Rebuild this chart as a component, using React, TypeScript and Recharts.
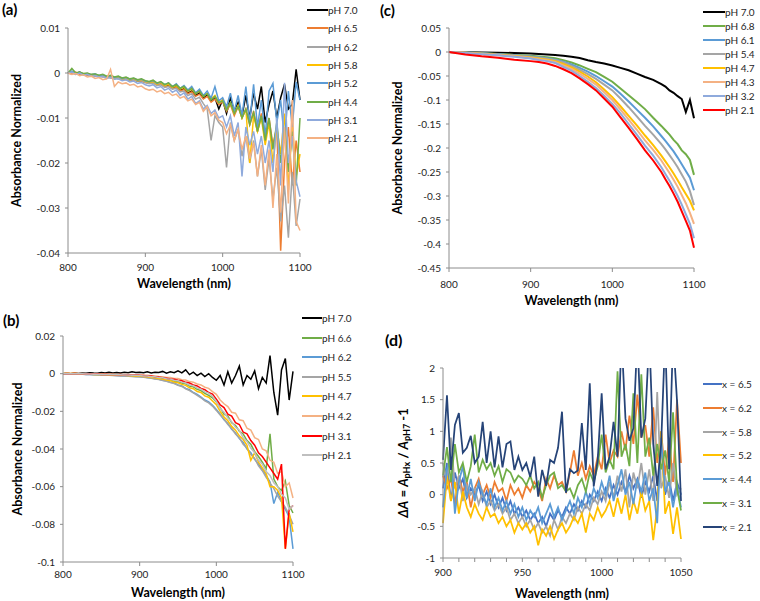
import React from "react";
import { LineChart, Line, XAxis, YAxis } from "recharts";

const FONT = "Lato, 'Open Sans', 'Liberation Sans', sans-serif";
const AXIS = "#8c8c8c";
const INK = "#1e1e1e";

// wavelength grids (nm)
const wl5 = [800, 805, 810, 815, 820, 825, 830, 835, 840, 845, 850, 855, 860, 865, 870, 875, 880, 885, 890, 895, 900, 905, 910, 915, 920, 925, 930, 935, 940, 945, 950, 955, 960, 965, 970, 975, 980, 985, 990, 995, 1000, 1005, 1010, 1015, 1020, 1025, 1030, 1035, 1040, 1045, 1050, 1055, 1060, 1065, 1070, 1075, 1080, 1085, 1090, 1095, 1100];
const wlC = [800, 820, 840, 860, 880, 900, 910, 920, 930, 940, 950, 960, 970, 980, 990, 1000, 1010, 1020, 1030, 1040, 1050, 1060, 1065, 1070, 1075, 1080, 1085, 1090, 1095, 1100];
const wlD = [900, 902.5, 905, 907.5, 910, 912.5, 915, 917.5, 920, 922.5, 925, 927.5, 930, 932.5, 935, 937.5, 940, 942.5, 945, 947.5, 950, 952.5, 955, 957.5, 960, 962.5, 965, 967.5, 970, 972.5, 975, 977.5, 980, 982.5, 985, 987.5, 990, 992.5, 995, 997.5, 1000, 1002.5, 1005, 1007.5, 1010, 1012.5, 1015, 1017.5, 1020, 1022.5, 1025, 1027.5, 1030, 1032.5, 1035, 1037.5, 1040, 1042.5, 1045, 1047.5, 1050];

// (a)
const namesA = ["pH 7.0", "pH 6.5", "pH 6.2", "pH 5.8", "pH 5.2", "pH 4.4", "pH 3.1", "pH 2.1"];
const colorsA = ["#000000", "#ED7D31", "#A5A5A5", "#FFC000", "#5B9BD5", "#70AD47", "#8FAADC", "#F4B183"];
const a70 = [0, .0003, -.0002, .0002, -.0004, -.0003, -.0006, -.0004, -.0008, -.0006, -.0010, -.0009, -.0012, -.0011, -.0013, -.0012, -.0016, -.0015, -.0018, -.0017, -.0020,
  -.0022, -.0020, -.0026, -.0024, -.0030, -.0028, -.0034, -.0030, -.0038, -.0035, -.0045, -.0040, -.0050, -.0044, -.0056, -.0048, -.0062, -.0055, -.0080, -.0060,
  -.0090, -.0055, -.0085, -.0065, -.0095, -.0050, -.0100, -.0045, -.0080, -.0030, -.0110, -.0070, -.0040, -.0100, -.0055, -.0025, -.0080, -.0070, .0008, -.0060];
const a65 = [0, -.0002, .0002, -.0003, -.0002, -.0005, -.0004, -.0007, -.0006, -.0009, -.0008, -.0011, -.0010, -.0013, -.0012, -.0015, -.0014, -.0017, -.0016, -.0019, -.0021,
  -.0023, -.0021, -.0027, -.0025, -.0031, -.0029, -.0035, -.0032, -.0040, -.0037, -.0046, -.0042, -.0052, -.0047, -.0058, -.0052, -.0065, -.0058, -.0070, -.0064,
  -.0085, -.0070, -.0095, -.0075, -.0100, -.0080, -.0115, -.0085, -.0130, -.0090, -.0140, -.0100, -.0160, -.0120, -.0395, -.0200, -.0120, -.0250, -.0150, -.0220];
const a62 = [0, .0002, -.0003, .0000, -.0004, -.0003, -.0006, -.0005, -.0008, -.0007, -.0010, -.0009, -.0012, -.0011, -.0014, -.0013, -.0016, -.0015, -.0018, -.0017, -.0021,
  -.0024, -.0022, -.0028, -.0026, -.0032, -.0030, -.0036, -.0034, -.0042, -.0040, -.0050, -.0046, -.0058, -.0054, -.0068, -.0080, -.0150, -.0095, -.0110, -.0120,
  -.0210, -.0110, -.0150, -.0125, -.0185, -.0140, -.0200, -.0150, -.0230, -.0170, -.0260, -.0190, -.0280, -.0210, -.0330, -.0250, -.0366, -.0220, -.0340, -.0280];
const a58 = [0, .0003, -.0002, .0001, -.0003, -.0002, -.0005, -.0004, -.0007, -.0005, -.0009, -.0008, -.0011, -.0009, -.0013, -.0011, -.0015, -.0013, -.0017, -.0015, -.0019,
  -.0021, -.0019, -.0025, -.0022, -.0028, -.0025, -.0032, -.0028, -.0036, -.0032, -.0040, -.0036, -.0046, -.0040, -.0052, -.0045, -.0058, -.0050, -.0066, -.0060,
  -.0080, -.0066, -.0090, -.0072, -.0100, -.0080, -.0200, -.0095, -.0130, -.0100, -.0160, -.0110, -.0200, -.0120, -.0180, -.0090, -.0260, -.0110, -.0230, -.0180];
const a52 = [0, .0004, -.0001, .0002, -.0002, -.0001, -.0004, -.0002, -.0006, -.0004, -.0008, -.0006, -.0010, -.0008, -.0012, -.0010, -.0014, -.0012, -.0016, -.0014, -.0018,
  -.0020, -.0017, -.0023, -.0020, -.0026, -.0022, -.0030, -.0024, -.0034, -.0028, -.0038, -.0030, -.0044, -.0036, -.0050, -.0040, -.0056, -.0030, -.0062, -.0055,
  -.0075, -.0045, -.0085, -.0050, -.0095, -.0030, -.0110, -.0025, -.0120, -.0060, -.0140, -.0040, -.0023, -.0110, -.0060, -.0150, -.0040, -.0120, -.0020, -.0060];
const a44 = [0, .0010, .0000, .0002, -.0001, .0000, -.0003, -.0002, -.0005, -.0003, -.0007, -.0005, -.0009, -.0007, -.0011, -.0009, -.0013, -.0011, -.0015, -.0013, -.0017,
  -.0019, -.0016, -.0022, -.0019, -.0026, -.0022, -.0030, -.0026, -.0034, -.0030, -.0040, -.0034, -.0046, -.0040, -.0052, -.0046, -.0060, -.0052, -.0066, -.0062,
  -.0082, -.0066, -.0090, -.0074, -.0100, -.0080, -.0115, -.0088, -.0130, -.0095, -.0150, -.0100, -.0170, -.0110, -.0200, -.0120, -.0220, -.0130, -.0250, -.0100];
const a31 = [0, .0002, -.0003, .0000, -.0005, -.0003, -.0007, -.0006, -.0009, -.0008, -.0012, -.0010, -.0014, -.0013, -.0017, -.0015, -.0020, -.0018, -.0023, -.0021, -.0026,
  -.0029, -.0026, -.0033, -.0030, -.0038, -.0034, -.0043, -.0038, -.0050, -.0044, -.0058, -.0052, -.0068, -.0062, -.0080, -.0072, -.0090, -.0082, -.0100, -.0095,
  -.0120, -.0095, -.0140, -.0110, -.0230, -.0120, -.0160, -.0130, -.0180, -.0140, -.0200, -.0150, -.0220, -.0100, -.0250, -.0022, -.0200, -.0140, -.0240, -.0275];
const a21 = [0, -.0003, -.0001, -.0006, -.0004, -.0009, -.0007, -.0012, -.0010, -.0015, -.0013, .0008, -.0030, -.0020, -.0024, -.0022, -.0027, -.0025, -.0031, -.0029, -.0035,
  -.0038, -.0036, -.0042, -.0039, -.0046, -.0043, -.0050, -.0047, -.0056, -.0052, -.0062, -.0058, -.0070, -.0065, -.0085, -.0075, -.0095, -.0088, -.0105, -.0110,
  -.0135, -.0115, -.0150, -.0125, -.0170, -.0140, -.0190, -.0155, -.0230, -.0160, -.0250, -.0170, -.0300, -.0180, -.0310, -.0120, -.0290, -.0060, -.0330, -.0350];

// (b)
const namesB = ["pH 7.0", "pH 6.6", "pH 6.2", "pH 5.5", "pH 4.7", "pH 4.2", "pH 3.1", "pH 2.1"];
const colorsB = ["#000000", "#70AD47", "#5B9BD5", "#A5A5A5", "#FFC000", "#F4B183", "#FF0000", "#BFBFBF"];
const b70 = [0, .0002, .0000, .0003, .0001, .0004, .0002, .0005, .0003, .0002, .0006, .0003, .0008, .0004, .0006, .0003, .0007, .0005, .0010, .0006, .0008,
  .0005, .0010, .0004, .0008, .0006, .0012, .0003, .0010, .0005, .0015, .0004, .0020, -.0005, .0008, -.0010, .0003, -.0015, .0000, -.0020, -.0035,
  -.0010, -.0060, .0010, -.0050, -.0010, .0040, -.0060, -.0010, -.0030, .0015, -.0080, -.0020, -.0050, .0096, -.0100, -.0220, .0020, .0080, -.0140, .0012];
const b66 = [0, .0002, 0, .0001, -.0001, .0000, -.0002, -.0001, -.0003, -.0002, -.0004, -.0003, -.0005, -.0004, -.0006, -.0006, -.0008, -.0008, -.0010, -.0010, -.0012,
  -.0014, -.0015, -.0018, -.0020, -.0023, -.0026, -.0031, -.0034, -.0040, -.0042, -.0050, -.0054, -.0066, -.0070, -.0083, -.0090, -.0105, -.0115, -.0128, -.0150,
  -.0180, -.0215, -.0225, -.0260, -.0275, -.0305, -.0320, -.0355, -.0375, -.0415, -.0440, -.0470, -.0505, -.0320, -.0560, -.0600, -.0620, -.0570, -.0700, -.0740];
const b62 = [0, .0001, -.0001, .0000, -.0002, -.0002, -.0004, -.0004, -.0006, -.0006, -.0008, -.0008, -.0009, -.0009, -.0010, -.0011, -.0012, -.0013, -.0014, -.0015, -.0016,
  -.0018, -.0021, -.0023, -.0027, -.0030, -.0035, -.0039, -.0046, -.0050, -.0060, -.0065, -.0078, -.0085, -.0100, -.0110, -.0125, -.0140, -.0150, -.0168, -.0190,
  -.0215, -.0245, -.0265, -.0295, -.0315, -.0345, -.0365, -.0400, -.0420, -.0455, -.0480, -.0510, -.0540, -.0575, -.0690, -.0630, -.0680, -.0720, -.0760, -.0930];
const b55 = [0, .0000, -.0001, -.0001, -.0002, -.0003, -.0004, -.0005, -.0006, -.0007, -.0008, -.0008, -.0009, -.0010, -.0011, -.0012, -.0013, -.0014, -.0015, -.0016, -.0017,
  -.0019, -.0022, -.0024, -.0028, -.0031, -.0036, -.0040, -.0047, -.0052, -.0062, -.0068, -.0080, -.0090, -.0102, -.0115, -.0128, -.0145, -.0155, -.0172, -.0195,
  -.0220, -.0240, -.0270, -.0290, -.0320, -.0340, -.0375, -.0395, -.0430, -.0450, -.0490, -.0515, -.0550, -.0580, -.0610, -.0650, -.0680, -.0710, -.0750, -.0800];
const b47 = [0, .0003, .0001, .0002, .0000, .0000, -.0002, -.0002, -.0004, -.0004, -.0005, -.0005, -.0006, -.0006, -.0007, -.0008, -.0009, -.0010, -.0011, -.0012, -.0013,
  -.0015, -.0017, -.0020, -.0022, -.0026, -.0029, -.0034, -.0037, -.0044, -.0048, -.0057, -.0062, -.0075, -.0080, -.0095, -.0100, -.0118, -.0125, -.0145, -.0165,
  -.0200, -.0230, -.0250, -.0280, -.0300, -.0330, -.0350, -.0380, -.0460, -.0420, -.0470, -.0500, -.0530, -.0600, -.0600, -.0620, -.0660, -.0930, -.0740, -.0840];
const b42 = [0, .0002, .0001, .0002, .0001, .0001, .0000, .0000, -.0001, -.0001, -.0002, -.0002, -.0003, -.0003, -.0004, -.0004, -.0005, -.0005, -.0006, -.0006, -.0007,
  -.0008, -.0009, -.0011, -.0012, -.0015, -.0016, -.0020, -.0020, -.0025, -.0026, -.0032, -.0034, -.0042, -.0045, -.0055, -.0060, -.0072, -.0078, -.0095, -.0110,
  -.0140, -.0160, -.0175, -.0205, -.0210, -.0245, -.0250, -.0290, -.0300, -.0340, -.0350, -.0400, -.0410, -.0460, -.0470, -.0530, -.0520, -.0600, -.0580, -.0660];
const b31 = [0, .0001, .0000, .0001, -.0001, .0000, -.0002, -.0001, -.0003, -.0002, -.0004, -.0003, -.0005, -.0004, -.0006, -.0005, -.0007, -.0006, -.0008, -.0007, -.0009,
  -.0010, -.0012, -.0013, -.0016, -.0018, -.0021, -.0024, -.0028, -.0030, -.0035, -.0038, -.0046, -.0050, -.0060, -.0065, -.0078, -.0085, -.0100, -.0108, -.0135,
  -.0165, -.0180, -.0215, -.0225, -.0260, -.0270, -.0310, -.0320, -.0355, -.0380, -.0420, -.0440, -.0470, -.0500, -.0530, -.0560, -.0480, -.0930, -.0720, -.0700];
const b21 = [0, .0001, .0000, .0000, -.0001, -.0001, -.0002, -.0002, -.0003, -.0003, -.0004, -.0004, -.0005, -.0005, -.0006, -.0006, -.0007, -.0007, -.0008, -.0009, -.0010,
  -.0012, -.0013, -.0016, -.0017, -.0021, -.0022, -.0027, -.0029, -.0035, -.0038, -.0045, -.0050, -.0060, -.0064, -.0076, -.0082, -.0097, -.0103, -.0120, -.0148,
  -.0185, -.0205, -.0235, -.0255, -.0285, -.0300, -.0340, -.0360, -.0395, -.0420, -.0460, -.0480, -.0520, -.0540, -.0580, -.0600, -.0640, -.0660, -.0720, -.0700];

// (c)
const namesC = ["pH 7.0", "pH 6.8", "pH 6.1", "pH 5.4", "pH 4.7", "pH 4.3", "pH 3.2", "pH 2.1"];
const colorsC = ["#000000", "#70AD47", "#5B9BD5", "#A5A5A5", "#FFC000", "#F4B183", "#8FAADC", "#FF0000"];
const c70 = [0, -.0005, -.001, -.0015, -.002, -.003, -.004, -.005, -.0065, -.008, -.010, -.0125, -.017, -.021, -.024, -.028, -.033, -.038, -.045, -.052, -.058, -.067, -.072, -.080, -.085, -.092, -.098, -.125, -.100, -.138];
const c68 = [0, -.001, -.002, -.004, -.006, -.008, -.0095, -.011, -.013, -.017, -.022, -.028, -.035, -.042, -.052, -.062, -.076, -.090, -.104, -.119, -.137, -.154, -.163, -.172, -.183, -.192, -.205, -.213, -.225, -.256];
const c61 = [0, -.0012, -.0025, -.0045, -.007, -.0095, -.011, -.013, -.016, -.020, -.026, -.033, -.041, -.050, -.061, -.072, -.087, -.103, -.120, -.137, -.155, -.175, -.185, -.196, -.207, -.220, -.234, -.248, -.262, -.288];
const c54 = [0, -.0014, -.003, -.005, -.0075, -.010, -.012, -.014, -.017, -.022, -.029, -.037, -.046, -.056, -.068, -.080, -.097, -.115, -.134, -.154, -.172, -.192, -.203, -.215, -.227, -.240, -.255, -.270, -.290, -.319];
const c47 = [0, -.0016, -.0035, -.006, -.0085, -.0115, -.0135, -.016, -.019, -.025, -.032, -.041, -.051, -.063, -.078, -.094, -.113, -.133, -.153, -.174, -.194, -.216, -.228, -.240, -.253, -.267, -.282, -.296, -.310, -.330];
const c43 = [0, -.0018, -.004, -.0065, -.009, -.0125, -.015, -.0175, -.021, -.028, -.035, -.045, -.056, -.068, -.084, -.100, -.120, -.141, -.162, -.184, -.204, -.226, -.239, -.252, -.266, -.281, -.298, -.315, -.335, -.358];
const c32 = [0, -.002, -.0045, -.007, -.010, -.0135, -.0165, -.019, -.023, -.031, -.039, -.050, -.062, -.075, -.091, -.108, -.128, -.150, -.172, -.195, -.216, -.240, -.254, -.268, -.284, -.300, -.318, -.338, -.358, -.388];
const c21 = [0, -.005, -.009, -.012, -.016, -.019, -.021, -.024, -.029, -.036, -.044, -.055, -.067, -.080, -.097, -.114, -.136, -.158, -.181, -.205, -.226, -.250, -.265, -.279, -.295, -.312, -.332, -.352, -.372, -.408];

// (d)
const namesD = ["x = 6.5", "x = 6.2", "x = 5.8", "x = 5.2", "x = 4.4", "x = 3.1", "x = 2.1"];
const colorsD = ["#4472C4", "#ED7D31", "#A5A5A5", "#FFC000", "#5B9BD5", "#70AD47", "#264478"];
const d65 = [0.1, 0.5, -0.1, 0.35, 0.1, 0.25, -0.05, 0.1, 0.0, 0.15, -0.1, 0.05, -0.15, 0.0, -0.2, -0.05, -0.25, -0.1, -0.3, -0.2,
  -0.35, -0.25, -0.4, -0.3, -0.45, -0.35, -0.5, -0.3, -0.4, -0.25, -0.35, -0.2, -0.3, -0.15, -0.25, -0.1, -0.2, 0.0, -0.1, 0.05,
  -0.1, 0.1, -0.05, 0.15, 0.0, 0.2, 0.05, 0.3, 0.1, 0.25, -0.05, 0.2, 0.05, 0.3, -0.1, 0.8, 0.0, 0.25, -0.1, 0.2, 0.0];
const d62 = [0.3, 0.1, 0.25, -0.15, 0.3, 0.05, 0.2, -0.2, 0.1, 0.25, 0.0, 0.15, -0.05, 0.2, 0.05, 0.1, -0.1, 0.15, 0.0, 0.1,
  -0.05, 0.15, 0.05, 0.2, 0.1, -0.1, 0.25, 0.1, 0.3, 0.15, 0.2, 0.05, 0.35, 0.7, 0.3, 0.5, 0.25, 0.45, 0.3, 0.6,
  0.4, 0.95, 0.5, 0.7, 0.6, 1.0, 0.7, 1.25, 0.8, 1.58, 0.9, 1.1, 0.6, 1.38, 0.5, 1.0, 0.3, 0.9, 0.2, 1.5, 0.5];
const d58 = [0.5, 0.2, 0.9, 0.1, 0.3, -0.1, 0.15, 0.0, 0.1, -0.15, 0.05, -0.2, -0.1, -0.25, -0.15, -0.3, -0.2, -0.4, -0.3, -0.45,
  -0.35, -0.5, -0.4, -0.55, -0.45, -0.6, -0.5, -0.65, -0.4, -0.55, -0.35, -0.45, -0.3, -0.4, -0.2, -0.3, -0.15, -0.25, -0.05, -0.15,
  0.05, -0.1, 0.2, -0.05, 0.3, 0.05, 0.4, -0.2, 0.35, 0.1, 0.5, 0.0, 0.4, -0.1, 1.62, 0.1, 0.3, -0.05, 0.5, 0.0, 0.1];
const d52 = [-0.45, 0.3, -0.1, 0.2, -0.3, 0.05, -0.2, -0.35, -0.15, -0.3, -0.4, -0.2, -0.35, -0.3, -0.45, -0.35, -0.5, -0.4, -0.6, -0.45,
  -0.55, -0.45, -0.6, -0.5, -0.8, -0.55, -0.65, -0.5, -0.7, -0.55, -0.45, -0.6, -0.5, -0.35, -0.45, -0.3, -0.6, -0.3, -0.4, -0.2,
  -0.35, -0.25, -0.1, -0.35, -0.05, -0.3, 0.0, -0.4, -0.1, -0.3, 0.05, -0.25, -0.1, -0.72, -0.2, 1.0, -0.3, -0.1, -0.62, -0.2, -0.7];
const d44 = [-0.2, 0.4, 0.6, -0.3, 0.2, 0.45, -0.05, 0.25, -0.1, 0.2, 0.0, -0.15, 0.1, -0.2, -0.05, -0.25, -0.1, -0.3, -0.15, -0.35,
  -0.2, -0.4, -0.25, -0.35, -0.2, -0.45, -0.3, -0.15, -0.35, -0.2, -0.4, -0.25, -0.1, -0.3, -0.05, -0.2, 0.05, -0.15, 0.1, -0.05,
  0.2, 0.0, 0.3, -0.1, 0.15, 0.4, 0.0, 0.2, -0.15, 0.25, 0.05, 0.35, -0.1, 0.1, -0.45, 0.9, 0.05, 0.2, -0.2, 0.15, -0.2];
const d31 = [0.3, 0.75, 0.2, 0.8, 0.35, 0.5, 0.2, 0.45, 0.95, 0.35, 0.55, 0.4, 0.5, 0.3, 0.45, 0.2, 0.4, 0.35, 0.2, 0.3,
  0.25, 0.15, 0.3, 0.1, 0.2, -0.05, 0.15, 0.3, 0.35, 0.1, 0.15, 0.05, 0.1, -0.05, 0.15, 0.25, 0.05, 0.35, 0.2, 0.45,
  0.95, 0.35, 0.55, 0.4, 1.95, 0.6, 0.8, 0.45, 1.6, 0.5, 1.9, 0.6, 0.9, 0.3, 0.8, 0.4, 0.7, 0.2, 1.3, 0.1, -0.25];
const d21 = [0.55, 1.57, 0.39, 1.1, 1.29, 0.66, 0.74, 0.93, 0.5, 0.6, 1.15, 0.5, 1.0, 0.43, 0.92, 0.43, 0.8, 0.84, 0.39, 0.6,
  0.39, 0.5, 0.28, 0.6, -0.03, 0.39, 0.14, 0.55, 0.5, 0.74, 1.31, 0.03, 0.4, 0.34, 0.38, 1.13, 0.39, 1.76, 0.13, 0.55,
  1.6, 0.4, 0.6, 1.15, 0.6, 2.5, 1.2, 0.85, 1.05, 2.5, 0.9, 1.2, 2.5, 0.8, 0.14, 0.8, 2.5, 0.4, 2.5, 1.48, -0.1];

const absTitle = "Absorbance Normalized";
const ratioTitle = (
  <>
    <tspan fontStyle="italic">ΔA</tspan>
    <tspan> = </tspan>
    <tspan fontStyle="italic">A</tspan>
    <tspan fontSize={9} dy={3}>pHx</tspan>
    <tspan dy={-3}> / </tspan>
    <tspan fontStyle="italic">A</tspan>
    <tspan fontSize={9} dy={3}>pH7</tspan>
    <tspan dy={-3}> -1</tspan>
  </>
);

type PanelProps = {
  tag: string;
  tagX: number;
  tagY: number;
  tagSize: number;
  left: number;
  top: number;
  width: number;
  height: number;
  plot: { l: number; t: number; r: number; b: number };
  x: number[];
  series: number[][];
  names: string[];
  colors: string[];
  xDomain: [number, number];
  xTicks: number[];
  xLabelStep: number;
  xTickMargin: number;
  xTitleDy: number;
  yDomain: [number, number];
  yTicks: number[];
  yTitle: React.ReactNode;
  yTitleX: number;
  yTitleSize: number;
  sw: number;
  legend: { x: number; y: number; dy: number; lineW: number };
};

function Panel(p: PanelProps) {
  const data = p.x.map((w, i) => {
    const row: Record<string, number> = { w };
    p.series.forEach((s, k) => {
      row["s" + k] = s[i];
    });
    return row;
  });
  const yW = p.plot.l - p.left;
  const xH = p.top + p.height - p.plot.b;
  const cx = (p.plot.l + p.plot.r) / 2 - p.left;
  const cy = (p.plot.t + p.plot.b) / 2 - p.top;
  const tx = p.yTitleX - p.left;
  const tick = { fontSize: 10, fill: INK, fontFamily: FONT };

  return (
    <>
      <div style={{ position: "absolute", left: p.left, top: p.top }}>
        <LineChart
          width={p.width}
          height={p.height}
          data={data}
          margin={{ top: p.plot.t - p.top, right: p.left + p.width - p.plot.r, bottom: 0, left: 0 }}
        >
          <XAxis
            type="number"
            dataKey="w"
            domain={p.xDomain}
            ticks={p.xTicks}
            interval={0}
            height={xH}
            tickSize={4}
            tickMargin={p.xTickMargin}
            axisLine={{ stroke: AXIS }}
            tickLine={{ stroke: AXIS }}
            tick={tick}
            tickFormatter={(v: number) => (v % p.xLabelStep === 0 ? String(v) : "")}
            label={() => (
              <text
                x={cx}
                y={p.plot.b - p.top + p.xTitleDy}
                textAnchor="middle"
                dominantBaseline="central"
                style={{ fontFamily: FONT, fontWeight: 700, fontSize: 12.5, fill: "#000" }}
              >
                Wavelength (nm)
              </text>
            )}
          />
          <YAxis
            type="number"
            domain={p.yDomain}
            ticks={p.yTicks}
            interval={0}
            width={yW}
            allowDataOverflow
            tickSize={3}
            tickMargin={5}
            axisLine={{ stroke: AXIS }}
            tickLine={{ stroke: AXIS }}
            tick={tick}
            tickFormatter={(v: number) => String(v)}
            label={() => (
              <text
                x={tx}
                y={cy}
                transform={`rotate(-90 ${tx} ${cy})`}
                textAnchor="middle"
                dominantBaseline="central"
                style={{ fontFamily: FONT, fontWeight: 700, fontSize: p.yTitleSize, fill: "#000" }}
              >
                {p.yTitle}
              </text>
            )}
          />
          {p.series.map((_, k) => (
            <Line
              key={k}
              type="linear"
              dataKey={"s" + k}
              stroke={p.colors[k]}
              strokeWidth={p.sw}
              dot={false}
              activeDot={false}
              isAnimationActive={false}
            />
          ))}
        </LineChart>
      </div>
      <div
        style={{
          position: "absolute",
          left: p.tagX,
          top: p.tagY - 10,
          height: 20,
          lineHeight: "20px",
          fontFamily: FONT,
          fontWeight: 700,
          fontSize: p.tagSize,
          color: "#000",
        }}
      >
        {p.tag}
      </div>
      {p.names.map((n, i) => (
        <div
          key={n}
          style={{
            position: "absolute",
            left: p.legend.x,
            top: p.legend.y + i * p.legend.dy - 7,
            height: 14,
            display: "flex",
            alignItems: "center",
            fontFamily: FONT,
            fontSize: 10,
            color: INK,
            whiteSpace: "nowrap",
          }}
        >
          <span style={{ display: "inline-block", width: p.legend.lineW, height: 2, background: p.colors[i] }} />
          <span>{n}</span>
        </div>
      ))}
    </>
  );
}

export default function App() {
  return (
    <div style={{ position: "absolute", left: 0, top: 0, width: 760, height: 601, background: "#fff", overflow: "hidden" }}>
      <Panel
        tag="(a)" tagX={2} tagY={9} tagSize={15}
        left={0} top={0} width={330} height={300}
        plot={{ l: 68, t: 28, r: 300, b: 253 }}
        x={wl5}
        series={[a70, a65, a62, a58, a52, a44, a31, a21]}
        names={namesA} colors={colorsA}
        xDomain={[800, 1100]} xTicks={[800, 900, 1000, 1100]} xLabelStep={100} xTickMargin={7} xTitleDy={30}
        yDomain={[-0.04, 0.01]} yTicks={[-0.04, -0.03, -0.02, -0.01, 0, 0.01]}
        yTitle={absTitle} yTitleX={16} yTitleSize={12.5}
        sw={1.5}
        legend={{ x: 307, y: 10, dy: 18.3, lineW: 21 }}
      />
      <Panel
        tag="(b)" tagX={3} tagY={320} tagSize={15}
        left={0} top={300} width={325} height={301}
        plot={{ l: 63, t: 336, r: 293, b: 562 }}
        x={wl5}
        series={[b70, b66, b62, b55, b47, b42, b31, b21]}
        names={namesB} colors={colorsB}
        xDomain={[800, 1100]} xTicks={[800, 900, 1000, 1100]} xLabelStep={100} xTickMargin={5} xTitleDy={30}
        yDomain={[-0.1, 0.02]} yTicks={[-0.1, -0.08, -0.06, -0.04, -0.02, 0, 0.02]}
        yTitle={absTitle} yTitleX={17} yTitleSize={12.5}
        sw={1.5}
        legend={{ x: 302, y: 318, dy: 19.6, lineW: 20 }}
      />
      <Panel
        tag="(c)" tagX={380} tagY={10} tagSize={15}
        left={380} top={0} width={345} height={312}
        plot={{ l: 449, t: 28, r: 694, b: 268 }}
        x={wlC}
        series={[c70, c68, c61, c54, c47, c43, c32, c21]}
        names={namesC} colors={colorsC}
        xDomain={[800, 1100]} xTicks={[800, 900, 1000, 1100]} xLabelStep={100} xTickMargin={9} xTitleDy={32}
        yDomain={[-0.45, 0.05]}
        yTicks={[-0.45, -0.4, -0.35, -0.3, -0.25, -0.2, -0.15, -0.1, -0.05, 0, 0.05]}
        yTitle={absTitle} yTitleX={397} yTitleSize={12.5}
        sw={2}
        legend={{ x: 703, y: 11.5, dy: 14.1, lineW: 22 }}
      />
      <Panel
        tag="(d)" tagX={385} tagY={340} tagSize={16}
        left={380} top={300} width={330} height={301}
        plot={{ l: 443, t: 368, r: 681, b: 558 }}
        x={wlD}
        series={[d65, d62, d58, d52, d44, d31, d21]}
        names={namesD} colors={colorsD}
        xDomain={[900, 1050]}
        xTicks={[900, 910, 920, 930, 940, 950, 960, 970, 980, 990, 1000, 1010, 1020, 1030, 1040, 1050]}
        xLabelStep={50} xTickMargin={7} xTitleDy={35}
        yDomain={[-1, 2]} yTicks={[-1, -0.5, 0, 0.5, 1, 1.5, 2]}
        yTitle={ratioTitle} yTitleX={403} yTitleSize={13}
        sw={1.75}
        legend={{ x: 703, y: 384, dy: 23.8, lineW: 19 }}
      />
    </div>
  );
}
